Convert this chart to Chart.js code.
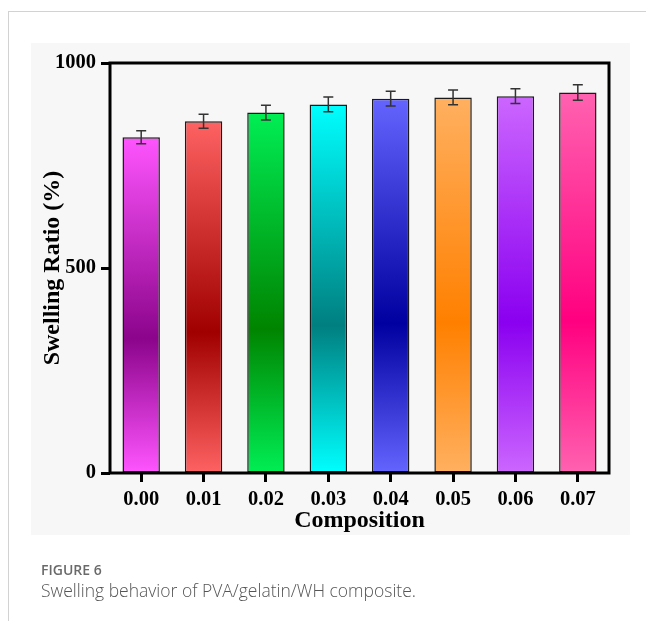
<!DOCTYPE html>
<html>
<head>
<meta charset="utf-8">
<script src="https://cdn.jsdelivr.net/npm/chart.js@4.4.1/dist/chart.umd.min.js"></script>
<style>
  html, body { margin: 0; padding: 0; background: #fff; }
  #wrap { position: relative; width: 646px; height: 621px; overflow: hidden; }
  #topline { position: absolute; left: 8px; top: 11px; width: 638px; height: 1px; background: #d2d2d2; }
  #leftline { position: absolute; left: 8px; top: 11px; width: 1px; height: 610px; background: #d2d2d2; }
  .cap { position: absolute; left: 41px; font-family: "Open Sans", "Noto Sans", sans-serif; color: #5a5a5a; white-space: nowrap; }
  #fig { top: 560px; font-size: 14px; font-weight: 600; color: #6a6a6a; }
  #desc { top: 578px; font-size: 17.5px; font-weight: 300; color: #555; }
</style>
</head>
<body>
<div id="wrap">
  <canvas id="myChart" width="646" height="621"></canvas>
  <div id="topline"></div>
  <div id="leftline"></div>
  <div class="cap" id="fig">FIGURE 6</div>
  <div class="cap" id="desc">Swelling behavior of PVA/gelatin/WH composite.</div>
</div>
<script>
const categories = ["0.00", "0.01", "0.02", "0.03", "0.04", "0.05", "0.06", "0.07"];
const swelling = [819, 858, 879, 899, 913, 916, 919, 928];
const errors = [16, 17, 18, 18, 18, 18, 18, 19];
const yTicks = [0, 500, 1000];

// light (top/bottom) and dark (middle) colour of each bar
const lightColors = ["#ff55ff", "#ff6262", "#00ee55", "#00ffff", "#6464ff", "#ffb060", "#cc66ff", "#ff62b0"];
const darkColors = ["#8b048b", "#a00000", "#008400", "#007f80", "#0000a0", "#ff8000", "#8a00f0", "#ff0080"];

const ctx = document.getElementById("myChart");

const serif = "'Liberation Serif', 'Times New Roman', serif";

function barGradient(c) {
  const chart = c.chart;
  const area = chart.chartArea;
  const i = c.dataIndex;
  if (!area) return lightColors[i];
  const top = chart.scales.y.getPixelForValue(swelling[i]);
  const g = chart.ctx.createLinearGradient(0, top, 0, area.bottom);
  g.addColorStop(0, lightColors[i]);
  g.addColorStop(0.6, darkColors[i]);
  g.addColorStop(1, lightColors[i]);
  return g;
}

// grey figure panel behind the plot
const panel = {
  id: "panel",
  beforeDraw(chart) {
    const c = chart.ctx;
    c.save();
    c.fillStyle = "#f7f7f7";
    c.fillRect(31, 43, 599, 492);
    c.restore();
  }
};

// error bars + frame
const extras = {
  id: "extras",
  afterDatasetsDraw(chart) {
    const c = chart.ctx;
    const y = chart.scales.y;
    const meta = chart.getDatasetMeta(0);
    c.save();
    c.strokeStyle = "#333";
    c.lineWidth = 1.5;
    meta.data.forEach((bar, i) => {
      const hi = y.getPixelForValue(swelling[i] + errors[i]);
      const lo = y.getPixelForValue(swelling[i] - errors[i]);
      c.beginPath();
      c.moveTo(bar.x, hi); c.lineTo(bar.x, lo);
      c.moveTo(bar.x - 5, hi); c.lineTo(bar.x + 5, hi);
      c.moveTo(bar.x - 5, lo); c.lineTo(bar.x + 5, lo);
      c.stroke();
    });
    const a = chart.chartArea;
    c.strokeStyle = "#000";
    c.lineWidth = 3;
    c.strokeRect(a.left, a.top, a.right - a.left, a.bottom - a.top);
    c.restore();
  }
};

new Chart(ctx, {
  type: "bar",
  data: {
    labels: categories,
    datasets: [
      {
        label: "Swelling Ratio",
        data: swelling,
        backgroundColor: barGradient,
        borderColor: "#1a1a1a",
        borderWidth: 1.5,
        borderSkipped: false,
        barPercentage: 0.6,
        categoryPercentage: 1,
      }
    ],
  },
  options: {
    responsive: false,
    animation: false,
    layout: {
      padding: { left: 31, right: 37, top: 63, bottom: 86 }
    },
    plugins: {
      legend: { display: false },
      tooltip: { enabled: false }
    },
    scales: {
      x: {
        offset: true,
        grid: {
          offset: false,
          drawOnChartArea: false,
          tickLength: 9,
          tickWidth: 3,
          tickColor: "#000"
        },
        border: { display: false },
        ticks: {
          color: "#000",
          padding: 5,
          font: { family: serif, size: 20.5, weight: "bold" }
        },
        title: {
          display: true,
          text: "Composition",
          color: "#000",
          padding: { top: 0, bottom: 0 },
          font: { family: serif, size: 24, weight: "bold" }
        },
        afterFit(scale) { scale.height = 62; }
      },
      y: {
        min: 0,
        max: 1000,
        afterBuildTicks(scale) { scale.ticks = yTicks.map(v => ({ value: v })); },
        grid: {
          drawOnChartArea: false,
          tickLength: 9,
          tickWidth: 3,
          tickColor: "#000"
        },
        border: { display: false },
        ticks: {
          color: "#000",
          padding: 5,
          callback: v => String(v),
          font: { family: serif, size: 20.5, weight: "bold" }
        },
        title: {
          display: true,
          text: "Swelling Ratio (%)",
          color: "#000",
          padding: { top: 7, bottom: 0 },
          font: { family: serif, size: 24, weight: "bold" }
        },
        afterFit(scale) { scale.width = 79; }
      }
    }
  },
  plugins: [panel, extras]
});
</script>
</body>
</html>
